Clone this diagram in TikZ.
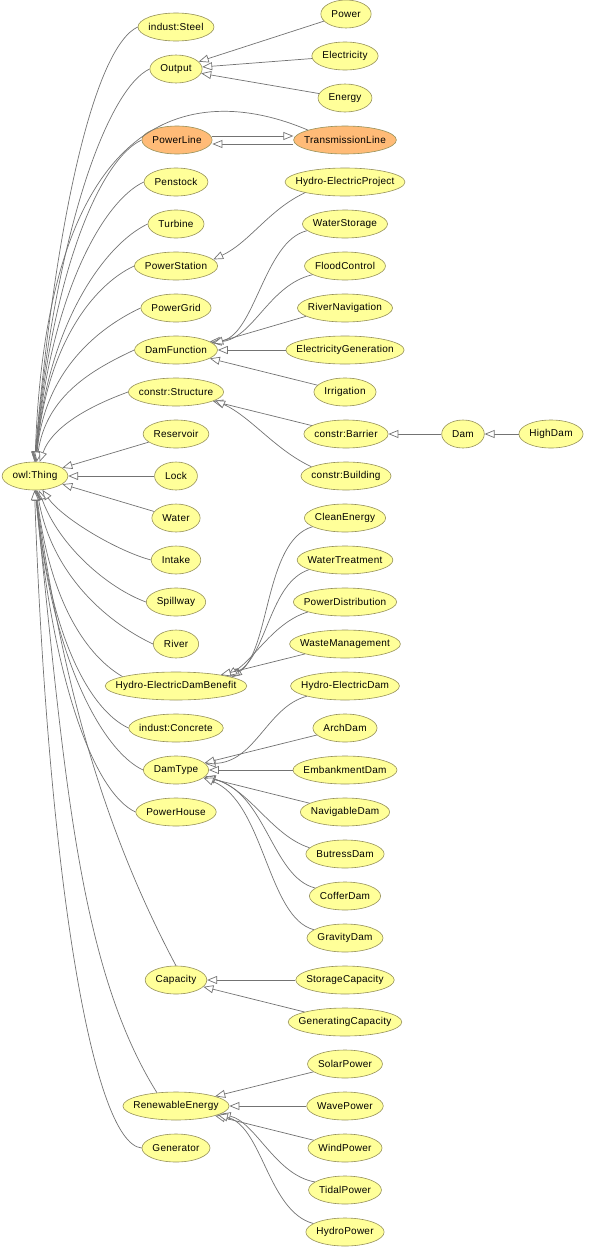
\documentclass[tikz,border=0pt]{standalone}
\usepackage{fontspec}
\setmainfont[LetterSpace=2.5]{Liberation Sans}
\usetikzlibrary{shapes.geometric,arrows.meta}
\definecolor{clsfill}{HTML}{FFFF99}
\definecolor{eqfill}{HTML}{FFBB77}
\definecolor{clsline}{RGB}{150,145,90}
\definecolor{edgeline}{RGB}{115,115,115}
% class node, ellipse as wide as its label plus padding
\newcommand{\ontnode}[4][clsfill]{%
  \pgfmathsetmacro{\ontw}{width("#4")+21}%
  \node[cls,fill=#1,minimum width=\ontw pt] (#2) at (#3) {#4};}
\begin{document}
\begin{tikzpicture}[x=1pt,y=1pt,
  cls/.style={ellipse,draw=clsline,line width=0.6pt,inner xsep=-30pt,inner ysep=0pt,minimum height=28pt},
  isa/.style={draw=edgeline,line width=0.7pt,-{Triangle[fill=white,length=10pt,width=8pt]}}]
\useasboundingbox (0,0) rectangle (594,-1256);
% root
\ontnode{thing}{35,-476}{owl:Thing}
% left column
\ontnode{steel}{176,-27}{indust:Steel}
\ontnode{output}{176,-69}{Output}
\ontnode[eqfill]{powerline}{177,-140}{PowerLine}
\ontnode{penstock}{176,-182}{Penstock}
\ontnode{turbine}{176,-224}{Turbine}
\ontnode{powerstation}{176,-266}{PowerStation}
\ontnode{powergrid}{176,-308}{PowerGrid}
\ontnode{damfunction}{176,-350}{DamFunction}
\ontnode{structure}{176,-392}{constr:Structure}
\ontnode{reservoir}{176,-434}{Reservoir}
\ontnode{lock}{176,-476}{Lock}
\ontnode{water}{176,-518}{Water}
\ontnode{intake}{176,-560}{Intake}
\ontnode{spillway}{176,-602}{Spillway}
\ontnode{river}{176,-644}{River}
\ontnode{hedb}{176,-686}{Hydro-ElectricDamBenefit}
\ontnode{concrete}{176,-728}{indust:Concrete}
\ontnode{damtype}{176,-770}{DamType}
\ontnode{powerhouse}{176,-812}{PowerHouse}
\ontnode{capacity}{176,-980}{Capacity}
\ontnode{renewable}{176,-1106}{RenewableEnergy}
\ontnode{generator}{176,-1148}{Generator}
% right column
\ontnode{power}{346,-14}{Power}
\ontnode{electricity}{345,-56}{Electricity}
\ontnode{energy}{345,-98}{Energy}
\ontnode[eqfill]{transline}{345,-140}{TransmissionLine}
\ontnode{hep}{345,-182}{Hydro-ElectricProject}
\ontnode{waterstorage}{345,-224}{WaterStorage}
\ontnode{floodcontrol}{345,-266}{FloodControl}
\ontnode{rivernav}{345,-308}{RiverNavigation}
\ontnode{elecgen}{345,-350}{ElectricityGeneration}
\ontnode{irrigation}{345,-392}{Irrigation}
\ontnode{barrier}{346,-434}{constr:Barrier}
\ontnode{building}{346,-476}{constr:Building}
\ontnode{dam}{463,-434}{Dam}
\ontnode{highdam}{551,-434}{HighDam}
\ontnode{cleanenergy}{345,-518}{CleanEnergy}
\ontnode{watertreat}{345,-560}{WaterTreatment}
\ontnode{powerdist}{345,-602}{PowerDistribution}
\ontnode{waste}{345,-644}{WasteManagement}
\ontnode{hed}{345,-686}{Hydro-ElectricDam}
\ontnode{arch}{345,-728}{ArchDam}
\ontnode{embank}{345,-770}{EmbankmentDam}
\ontnode{navig}{345,-812}{NavigableDam}
\ontnode{butress}{345,-854}{ButressDam}
\ontnode{coffer}{345,-896}{CofferDam}
\ontnode{gravity}{345,-938}{GravityDam}
\ontnode{storecap}{345,-980}{StorageCapacity}
\ontnode{gencap}{345,-1022}{GeneratingCapacity}
\ontnode{solar}{345,-1064}{SolarPower}
\ontnode{wave}{345,-1106}{WavePower}
\ontnode{wind}{345,-1148}{WindPower}
\ontnode{tidal}{345,-1190}{TidalPower}
\ontnode{hydropower}{345,-1232}{HydroPower}
% subclasses of owl:Thing, upper half
\draw[isa] (steel.west) to[out=205,in=85,out distance=45pt,in distance=260pt] (thing.92);
\draw[isa] (output.west) to[out=205,in=85,out distance=45pt,in distance=235pt] (thing.91);
\draw[isa] (transline.165) to[out=157,in=88,out distance=128pt,in distance=350pt] (thing.90);
\draw[isa] (powerline.west) to[out=205,in=85,out distance=45pt,in distance=193pt] (thing.89);
\draw[isa] (penstock.west) to[out=205,in=85,out distance=45pt,in distance=167pt] (thing.88);
\draw[isa] (turbine.west) to[out=205,in=85,out distance=45pt,in distance=142pt] (thing.87);
\draw[isa] (powerstation.west) to[out=205,in=85,out distance=45pt,in distance=117pt] (thing.86);
\draw[isa] (powergrid.west) to[out=205,in=85,out distance=45pt,in distance=92pt] (thing.85);
\draw[isa] (damfunction.west) to[out=205,in=82,out distance=45pt,in distance=67pt] (thing.83);
\draw[isa] (structure.west) to[out=200,in=70,out distance=35pt,in distance=40pt] (thing.72);
% straight ones
\draw[isa] (reservoir) -- (thing);
\draw[isa] (lock) -- (thing);
\draw[isa] (water) -- (thing);
% lower half
\draw[isa] (intake.west) to[out=165,in=-55,out distance=35pt,in distance=35pt] (thing.-62);
\draw[isa] (spillway.west) to[out=160,in=-70,out distance=40pt,in distance=60pt] (thing.-75);
\draw[isa] (river.west) to[out=155,in=-80,out distance=45pt,in distance=90pt] (thing.-82);
\draw[isa] (hedb.170) to[out=150,in=-83,out distance=40pt,in distance=115pt] (thing.-85);
\draw[isa] (concrete.west) to[out=155,in=-85,out distance=45pt,in distance=140pt] (thing.-86);
\draw[isa] (damtype.west) to[out=155,in=-85,out distance=45pt,in distance=167pt] (thing.-87);
\draw[isa] (powerhouse.west) to[out=155,in=-85,out distance=45pt,in distance=193pt] (thing.-88);
\draw[isa] (capacity.north) to[out=118,in=-82,out distance=150pt,in distance=200pt] (thing.-89);
\draw[isa] (renewable.145) to[out=122,in=-84,out distance=150pt,in distance=280pt] (thing.-90);
\draw[isa] (generator.west) to[out=175,in=-88,out distance=50pt,in distance=380pt] (thing.-92);
% Output
\draw[isa] (power) -- (output);
\draw[isa] (electricity) -- (output);
\draw[isa] (energy) -- (output);
% equivalent lines
\draw[isa] ([yshift=4pt]powerline.east) -- ([yshift=4pt]transline.west);
\draw[isa] ([yshift=-4pt]transline.west) -- ([yshift=-4pt]powerline.east);
% PowerStation
\draw[isa] (hep.195) to[out=205,in=25,out distance=40pt,in distance=40pt] (powerstation.10);
% DamFunction
\draw[isa] (waterstorage.190) to[out=193,in=3,out distance=45pt,in distance=45pt] (damfunction.14);
\draw[isa] (floodcontrol.195) to[out=193,in=5,out distance=45pt,in distance=42pt] (damfunction.12);
\draw[isa] (rivernav.192) -- (damfunction.10);
\draw[isa] (elecgen) -- (damfunction);
\draw[isa] (irrigation) -- (damfunction);
% constr:Structure
\draw[isa] (barrier) -- (structure);
\draw[isa] (building.165) to[out=155,in=-25,out distance=40pt,in distance=40pt] (structure.-12);
\draw[isa] (dam) -- (barrier);
\draw[isa] (highdam) -- (dam);
% Hydro-ElectricDamBenefit
\draw[isa] (cleanenergy.195) to[out=196,in=35,out distance=50pt,in distance=47pt] (hedb.9);
\draw[isa] (watertreat.195) to[out=198,in=30,out distance=42pt,in distance=44pt] (hedb.10);
\draw[isa] (powerdist.195) to[out=197,in=33,out distance=35pt,in distance=33pt] (hedb.11);
\draw[isa] (waste) -- (hedb);
% DamType
\draw[isa] (hed.195) to[out=195,in=2,out distance=41pt,in distance=50pt] (damtype.12);
\draw[isa] (arch) -- (damtype);
\draw[isa] (embank) -- (damtype);
\draw[isa] (navig) -- (damtype);
\draw[isa] (butress.170) to[out=162,in=-17,out distance=40pt,in distance=47pt] (damtype.-12);
\draw[isa] (coffer.165) to[out=166,in=-13,out distance=45pt,in distance=63pt] (damtype.-14);
\draw[isa] (gravity.165) to[out=166,in=-21,out distance=48pt,in distance=65pt] (damtype.-16);
% Capacity
\draw[isa] (storecap) -- (capacity);
\draw[isa] (gencap) -- (capacity);
% RenewableEnergy
\draw[isa] (solar) -- (renewable);
\draw[isa] (wave) -- (renewable);
\draw[isa] (wind) -- (renewable);
\draw[isa] (tidal.165) to[out=170,in=-13,out distance=40pt,in distance=36pt] (renewable.-10);
\draw[isa] (hydropower.165) to[out=165,in=-14,out distance=47pt,in distance=46pt] (renewable.-12);
\end{tikzpicture}
\end{document}
